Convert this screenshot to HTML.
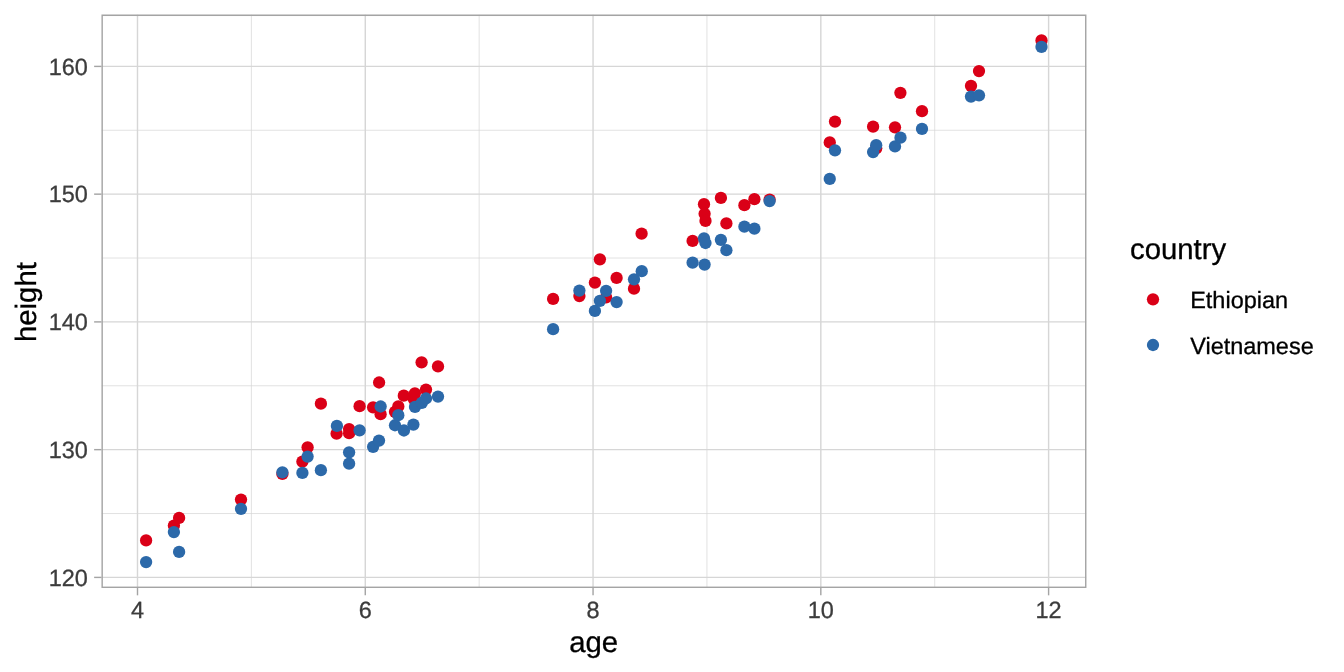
<!DOCTYPE html>
<html><head><meta charset="utf-8"><title>height vs age</title>
<style>html,body{margin:0;padding:0;background:#fff}svg{display:block}text{font-family:"Liberation Sans",sans-serif;text-rendering:geometricPrecision}</style></head><body>
<svg width="1344" height="672" viewBox="0 0 1344 672">
<rect width="1344" height="672" fill="#fff"/>
<defs><clipPath id="pc"><rect x="101.45" y="14.60" width="985.00" height="573.40"/></clipPath></defs>
<g clip-path="url(#pc)">
<g stroke="#D6D6D6" stroke-width="0.71" fill="none">
<line x1="251.39" x2="251.39" y1="14.60" y2="588.00"/>
<line x1="479.16" x2="479.16" y1="14.60" y2="588.00"/>
<line x1="706.94" x2="706.94" y1="14.60" y2="588.00"/>
<line x1="934.71" x2="934.71" y1="14.60" y2="588.00"/>
<line x1="101.45" x2="1086.45" y1="513.52" y2="513.52"/>
<line x1="101.45" x2="1086.45" y1="385.77" y2="385.77"/>
<line x1="101.45" x2="1086.45" y1="258.02" y2="258.02"/>
<line x1="101.45" x2="1086.45" y1="130.27" y2="130.27"/>
</g>
<g stroke="#D6D6D6" stroke-width="1.42" fill="none">
<line x1="137.50" x2="137.50" y1="14.60" y2="588.00"/>
<line x1="365.27" x2="365.27" y1="14.60" y2="588.00"/>
<line x1="593.05" x2="593.05" y1="14.60" y2="588.00"/>
<line x1="820.82" x2="820.82" y1="14.60" y2="588.00"/>
<line x1="1048.60" x2="1048.60" y1="14.60" y2="588.00"/>
<line x1="101.45" x2="1086.45" y1="577.40" y2="577.40"/>
<line x1="101.45" x2="1086.45" y1="449.65" y2="449.65"/>
<line x1="101.45" x2="1086.45" y1="321.90" y2="321.90"/>
<line x1="101.45" x2="1086.45" y1="194.15" y2="194.15"/>
<line x1="101.45" x2="1086.45" y1="66.40" y2="66.40"/>
</g>
<circle cx="146.10" cy="540.45" r="6.15" fill="#DA0017"/>
<circle cx="173.90" cy="525.60" r="6.15" fill="#DA0017"/>
<circle cx="179.10" cy="517.95" r="6.15" fill="#DA0017"/>
<circle cx="241.00" cy="499.60" r="6.15" fill="#DA0017"/>
<circle cx="282.40" cy="473.95" r="6.15" fill="#DA0017"/>
<circle cx="302.40" cy="461.60" r="6.15" fill="#DA0017"/>
<circle cx="307.60" cy="447.30" r="6.15" fill="#DA0017"/>
<circle cx="320.90" cy="403.70" r="6.15" fill="#DA0017"/>
<circle cx="336.60" cy="433.70" r="6.15" fill="#DA0017"/>
<circle cx="349.10" cy="429.10" r="6.15" fill="#DA0017"/>
<circle cx="349.10" cy="433.20" r="6.15" fill="#DA0017"/>
<circle cx="359.60" cy="406.20" r="6.15" fill="#DA0017"/>
<circle cx="373.10" cy="407.30" r="6.15" fill="#DA0017"/>
<circle cx="379.10" cy="382.50" r="6.15" fill="#DA0017"/>
<circle cx="380.60" cy="414.20" r="6.15" fill="#DA0017"/>
<circle cx="395.00" cy="411.80" r="6.15" fill="#DA0017"/>
<circle cx="398.30" cy="406.40" r="6.15" fill="#DA0017"/>
<circle cx="403.80" cy="395.70" r="6.15" fill="#DA0017"/>
<circle cx="413.70" cy="398.80" r="6.15" fill="#DA0017"/>
<circle cx="414.90" cy="393.30" r="6.15" fill="#DA0017"/>
<circle cx="421.60" cy="362.30" r="6.15" fill="#DA0017"/>
<circle cx="426.00" cy="389.60" r="6.15" fill="#DA0017"/>
<circle cx="438.00" cy="366.45" r="6.15" fill="#DA0017"/>
<circle cx="553.10" cy="298.95" r="6.15" fill="#DA0017"/>
<circle cx="579.40" cy="296.10" r="6.15" fill="#DA0017"/>
<circle cx="594.90" cy="282.60" r="6.15" fill="#DA0017"/>
<circle cx="599.90" cy="259.30" r="6.15" fill="#DA0017"/>
<circle cx="606.10" cy="297.45" r="6.15" fill="#DA0017"/>
<circle cx="616.60" cy="277.95" r="6.15" fill="#DA0017"/>
<circle cx="634.00" cy="288.70" r="6.15" fill="#DA0017"/>
<circle cx="641.60" cy="233.70" r="6.15" fill="#DA0017"/>
<circle cx="692.60" cy="240.95" r="6.15" fill="#DA0017"/>
<circle cx="704.00" cy="204.20" r="6.15" fill="#DA0017"/>
<circle cx="704.60" cy="213.80" r="6.15" fill="#DA0017"/>
<circle cx="705.50" cy="220.95" r="6.15" fill="#DA0017"/>
<circle cx="720.90" cy="197.95" r="6.15" fill="#DA0017"/>
<circle cx="726.40" cy="223.40" r="6.15" fill="#DA0017"/>
<circle cx="744.40" cy="205.20" r="6.15" fill="#DA0017"/>
<circle cx="754.40" cy="199.20" r="6.15" fill="#DA0017"/>
<circle cx="769.60" cy="199.60" r="6.15" fill="#DA0017"/>
<circle cx="829.75" cy="142.45" r="6.15" fill="#DA0017"/>
<circle cx="835.00" cy="121.60" r="6.15" fill="#DA0017"/>
<circle cx="873.10" cy="126.70" r="6.15" fill="#DA0017"/>
<circle cx="876.20" cy="148.30" r="6.15" fill="#DA0017"/>
<circle cx="895.00" cy="127.30" r="6.15" fill="#DA0017"/>
<circle cx="900.40" cy="92.80" r="6.15" fill="#DA0017"/>
<circle cx="922.00" cy="111.20" r="6.15" fill="#DA0017"/>
<circle cx="971.00" cy="85.80" r="6.15" fill="#DA0017"/>
<circle cx="979.00" cy="71.10" r="6.15" fill="#DA0017"/>
<circle cx="1041.50" cy="40.45" r="6.15" fill="#DA0017"/>
<circle cx="146.10" cy="562.10" r="6.15" fill="#2C69A9"/>
<circle cx="173.90" cy="532.10" r="6.15" fill="#2C69A9"/>
<circle cx="179.10" cy="551.95" r="6.15" fill="#2C69A9"/>
<circle cx="241.00" cy="508.80" r="6.15" fill="#2C69A9"/>
<circle cx="282.40" cy="472.30" r="6.15" fill="#2C69A9"/>
<circle cx="302.40" cy="472.95" r="6.15" fill="#2C69A9"/>
<circle cx="307.60" cy="456.60" r="6.15" fill="#2C69A9"/>
<circle cx="320.90" cy="470.20" r="6.15" fill="#2C69A9"/>
<circle cx="336.90" cy="425.90" r="6.15" fill="#2C69A9"/>
<circle cx="349.10" cy="452.30" r="6.15" fill="#2C69A9"/>
<circle cx="349.10" cy="463.70" r="6.15" fill="#2C69A9"/>
<circle cx="359.60" cy="430.30" r="6.15" fill="#2C69A9"/>
<circle cx="373.10" cy="446.80" r="6.15" fill="#2C69A9"/>
<circle cx="379.00" cy="440.60" r="6.15" fill="#2C69A9"/>
<circle cx="380.65" cy="406.50" r="6.15" fill="#2C69A9"/>
<circle cx="395.00" cy="425.25" r="6.15" fill="#2C69A9"/>
<circle cx="398.30" cy="415.20" r="6.15" fill="#2C69A9"/>
<circle cx="403.95" cy="430.50" r="6.15" fill="#2C69A9"/>
<circle cx="413.40" cy="424.60" r="6.15" fill="#2C69A9"/>
<circle cx="415.00" cy="406.90" r="6.15" fill="#2C69A9"/>
<circle cx="421.80" cy="402.90" r="6.15" fill="#2C69A9"/>
<circle cx="426.00" cy="398.50" r="6.15" fill="#2C69A9"/>
<circle cx="438.00" cy="396.60" r="6.15" fill="#2C69A9"/>
<circle cx="553.10" cy="329.20" r="6.15" fill="#2C69A9"/>
<circle cx="579.40" cy="290.60" r="6.15" fill="#2C69A9"/>
<circle cx="594.90" cy="310.95" r="6.15" fill="#2C69A9"/>
<circle cx="599.90" cy="300.80" r="6.15" fill="#2C69A9"/>
<circle cx="606.10" cy="290.80" r="6.15" fill="#2C69A9"/>
<circle cx="616.60" cy="302.10" r="6.15" fill="#2C69A9"/>
<circle cx="634.00" cy="279.30" r="6.15" fill="#2C69A9"/>
<circle cx="641.75" cy="271.20" r="6.15" fill="#2C69A9"/>
<circle cx="692.60" cy="262.70" r="6.15" fill="#2C69A9"/>
<circle cx="704.00" cy="238.30" r="6.15" fill="#2C69A9"/>
<circle cx="704.60" cy="264.60" r="6.15" fill="#2C69A9"/>
<circle cx="705.50" cy="243.00" r="6.15" fill="#2C69A9"/>
<circle cx="720.90" cy="239.80" r="6.15" fill="#2C69A9"/>
<circle cx="726.40" cy="250.20" r="6.15" fill="#2C69A9"/>
<circle cx="744.40" cy="226.70" r="6.15" fill="#2C69A9"/>
<circle cx="754.40" cy="228.70" r="6.15" fill="#2C69A9"/>
<circle cx="769.60" cy="201.10" r="6.15" fill="#2C69A9"/>
<circle cx="829.75" cy="178.95" r="6.15" fill="#2C69A9"/>
<circle cx="835.00" cy="150.30" r="6.15" fill="#2C69A9"/>
<circle cx="873.10" cy="152.10" r="6.15" fill="#2C69A9"/>
<circle cx="876.20" cy="145.20" r="6.15" fill="#2C69A9"/>
<circle cx="895.00" cy="146.45" r="6.15" fill="#2C69A9"/>
<circle cx="900.50" cy="137.70" r="6.15" fill="#2C69A9"/>
<circle cx="922.00" cy="128.95" r="6.15" fill="#2C69A9"/>
<circle cx="971.00" cy="96.60" r="6.15" fill="#2C69A9"/>
<circle cx="979.00" cy="95.30" r="6.15" fill="#2C69A9"/>
<circle cx="1041.50" cy="46.95" r="6.15" fill="#2C69A9"/>
<rect x="101.45" y="14.60" width="985.00" height="573.40" fill="none" stroke="#A4A4A4" stroke-width="2.84"/>
</g>
<g stroke="#A4A4A4" stroke-width="1.42">
<line x1="137.50" x2="137.50" y1="588.00" y2="595.33"/>
<line x1="365.27" x2="365.27" y1="588.00" y2="595.33"/>
<line x1="593.05" x2="593.05" y1="588.00" y2="595.33"/>
<line x1="820.82" x2="820.82" y1="588.00" y2="595.33"/>
<line x1="1048.60" x2="1048.60" y1="588.00" y2="595.33"/>
<line x1="94.12" x2="101.45" y1="577.40" y2="577.40"/>
<line x1="94.12" x2="101.45" y1="449.65" y2="449.65"/>
<line x1="94.12" x2="101.45" y1="321.90" y2="321.90"/>
<line x1="94.12" x2="101.45" y1="194.15" y2="194.15"/>
<line x1="94.12" x2="101.45" y1="66.40" y2="66.40"/>
</g>
<g fill="#3C3C3C" stroke="#3C3C3C" stroke-width="0.3" font-size="23.47px">
<text x="137.50" y="618.2" text-anchor="middle">4</text>
<text x="365.27" y="618.2" text-anchor="middle">6</text>
<text x="593.05" y="618.2" text-anchor="middle">8</text>
<text x="820.82" y="618.2" text-anchor="middle">10</text>
<text x="1048.60" y="618.2" text-anchor="middle">12</text>
<text x="87.9" y="585.70" text-anchor="end">120</text>
<text x="87.9" y="457.95" text-anchor="end">130</text>
<text x="87.9" y="330.20" text-anchor="end">140</text>
<text x="87.9" y="202.45" text-anchor="end">150</text>
<text x="87.9" y="74.70" text-anchor="end">160</text>
</g>
<g fill="#000" stroke="#000" stroke-width="0.3" font-size="29.33px">
<text x="593.7" y="651.8" text-anchor="middle">age</text>
<text transform="translate(35.5,302.1) rotate(-90)" text-anchor="middle">height</text>
<text x="1130" y="259.1">country</text>
</g>
<circle cx="1153" cy="299.3" r="6.15" fill="#DA0017"/>
<circle cx="1153" cy="345.0" r="6.15" fill="#2C69A9"/>
<g fill="#000" stroke="#000" stroke-width="0.3" font-size="23.47px">
<text x="1190.2" y="308.0">Ethiopian</text>
<text x="1190.2" y="353.7">Vietnamese</text>
</g>
</svg></body></html>
